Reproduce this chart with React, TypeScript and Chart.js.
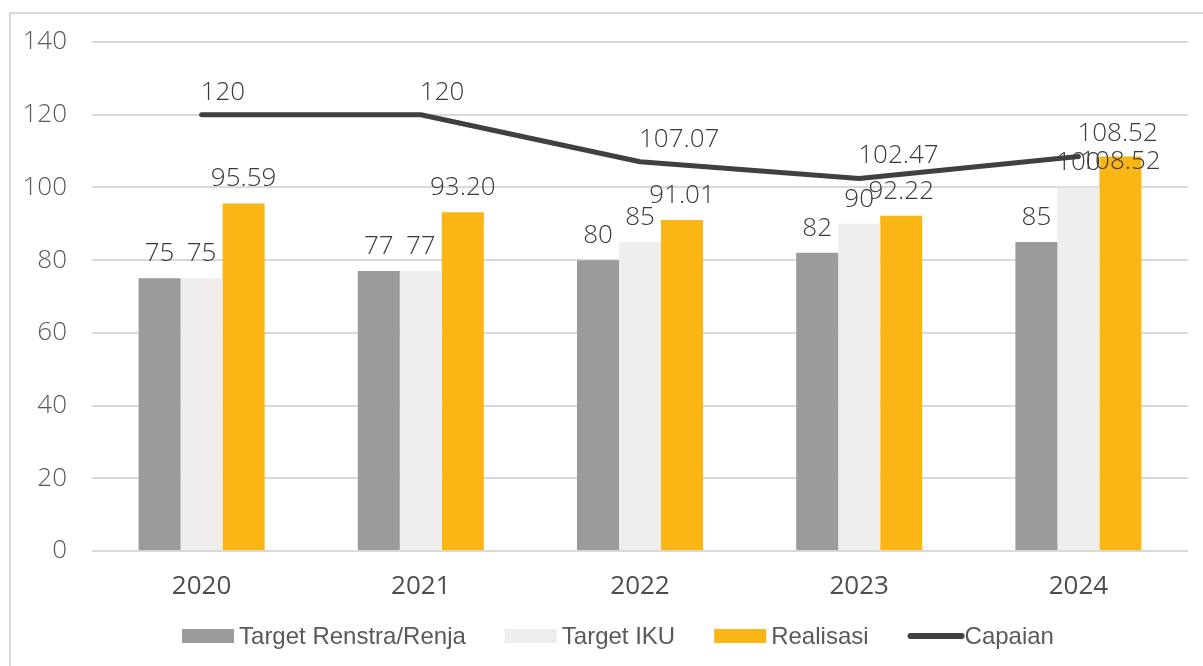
import React, { useEffect, useRef } from "react";
import { Chart, registerables } from "chart.js";

Chart.register(...registerables);

// ---- data ----
const categories = ["2020", "2021", "2022", "2023", "2024"];
const targetRenstra = [75, 77, 80, 82, 85];
const targetIku = [75, 77, 85, 90, 100];
const realisasi = [95.59, 93.2, 91.01, 92.22, 108.52];
const capaian = [120, 120, 107.07, 102.47, 108.52];
const yMin = 0;
const yMax = 140;
const yStep = 20;

const seriesLabels = ["Target Renstra/Renja", "Target IKU", "Realisasi", "Capaian"];
const seriesColors = ["#9b9b9b", "#efeeec", "#fbb515", "#404040"];

const W = 1203;
const H = 666;
const VALUE_FONT = '300 26px "Open Sans"';
const fmt = (v: number) => (Number.isInteger(v) ? String(v) : v.toFixed(2));

const framePlugin = {
  id: "frame",
  beforeDraw(chart: any) {
    const ctx = chart.ctx;
    ctx.save();
    ctx.fillStyle = "#ffffff";
    ctx.fillRect(0, 0, chart.width, chart.height);
    ctx.strokeStyle = "#d9d9d9";
    ctx.lineWidth = 2;
    ctx.strokeRect(10, 13, chart.width + 20, chart.height + 20);
    ctx.restore();
  },
};

const valueLabelPlugin = {
  id: "valueLabels",
  afterDatasetsDraw(chart: any) {
    const ctx = chart.ctx;
    ctx.save();
    ctx.font = VALUE_FONT;
    ctx.fillStyle = "#3a3a3a";
    ctx.textBaseline = "alphabetic";
    const capH = 18;
    const lineBoxes: { l: number; r: number; t: number; b: number }[] = [];
    const items: { text: string; x: number; y: number; align: CanvasTextAlign }[] = [];
    chart.data.datasets.forEach((ds: any, di: number) => {
      const meta = chart.getDatasetMeta(di);
      if (meta.type !== "line") return;
      meta.data.forEach((pt: any, i: number) => {
        const text = fmt(ds.data[i]);
        const w = ctx.measureText(text).width;
        const x = pt.x - 1;
        const y = pt.y - 15;
        lineBoxes.push({ l: x, r: x + w, t: y - capH, b: y });
        items.push({ text, x, y, align: "left" });
      });
    });
    chart.data.datasets.forEach((ds: any, di: number) => {
      const meta = chart.getDatasetMeta(di);
      if (meta.type !== "bar") return;
      meta.data.forEach((bar: any, i: number) => {
        const text = fmt(ds.data[i]);
        const w = ctx.measureText(text).width;
        let y = bar.y - 17;
        const l = bar.x - w / 2;
        const r = bar.x + w / 2;
        for (const b of lineBoxes) {
          if (l < b.r && r > b.l && y > b.t && y - capH < b.b) {
            y = b.b + 10 + capH;
          }
        }
        items.push({ text, x: bar.x, y, align: "center" });
      });
    });
    for (const it of items) {
      ctx.textAlign = it.align;
      ctx.fillText(it.text, it.x, it.y);
    }
    ctx.restore();
  },
};

const legendPlugin = {
  id: "customLegend",
  afterDraw(chart: any) {
    const ctx = chart.ctx;
    ctx.save();
    ctx.font = '24px "Liberation Sans", Arial, sans-serif';
    ctx.textBaseline = "middle";
    const boxW = 52;
    const boxH = 14;
    const gap = 5;
    const spacing = 39;
    const cy = 636;
    const all = chart.data.datasets as any[];
    const ds = [...all.filter((d) => d.type !== "line"), ...all.filter((d) => d.type === "line")];
    const widths = ds.map((d: any) => boxW + gap + ctx.measureText(d.label).width);
    const total = widths.reduce((a: number, b: number) => a + b, 0) + spacing * (ds.length - 1);
    let x = 618 - total / 2;
    ds.forEach((d: any, i: number) => {
      if (d.type === "line") {
        ctx.strokeStyle = d.borderColor;
        ctx.lineWidth = 6;
        ctx.lineCap = "round";
        ctx.beginPath();
        ctx.moveTo(x + 3, cy);
        ctx.lineTo(x + boxW + 2, cy);
        ctx.stroke();
      } else {
        ctx.fillStyle = d.backgroundColor;
        ctx.fillRect(x, cy - boxH / 2, boxW, boxH);
      }
      ctx.fillStyle = "#595959";
      ctx.textAlign = "left";
      ctx.fillText(d.label, x + boxW + gap, cy + 1);
      x += widths[i] + spacing;
    });
    ctx.restore();
  },
};

export default function App() {
  const ref = useRef<HTMLCanvasElement | null>(null);

  useEffect(() => {
    document.body.style.margin = "0";
    const canvas = ref.current;
    if (!canvas) return;
    const chart = new Chart(canvas, {
      type: "bar",
      data: {
        labels: categories,
        datasets: [
          {
            type: "line",
            label: seriesLabels[3],
            data: capaian,
            borderColor: seriesColors[3],
            backgroundColor: seriesColors[3],
            borderWidth: 5,
            pointRadius: 0,
            tension: 0,
            borderCapStyle: "round",
            borderJoinStyle: "round",
            order: 0,
          } as any,
          {
            type: "bar",
            label: seriesLabels[0],
            data: targetRenstra,
            backgroundColor: seriesColors[0],
            order: 1,
          },
          {
            type: "bar",
            label: seriesLabels[1],
            data: targetIku,
            backgroundColor: seriesColors[1],
            order: 1,
          },
          {
            type: "bar",
            label: seriesLabels[2],
            data: realisasi,
            backgroundColor: seriesColors[2],
            order: 1,
          },
        ],
      },
      options: {
        responsive: false,
        animation: false,
        devicePixelRatio: 1,
        layout: { padding: { top: 42, right: 15, bottom: 60, left: 0 } },
        datasets: {
          bar: { barPercentage: 1, categoryPercentage: 0.575 },
        },
        plugins: {
          legend: { display: false },
          tooltip: { enabled: false },
        },
        scales: {
          x: {
            grid: { display: false },
            border: { display: false },
            ticks: {
              color: "#4d4d4d",
              font: { family: '"Open Sans"', size: 26, weight: 400 as any },
              padding: 12,
            },
            afterFit: (scale: any) => {
              scale.height = 55;
            },
          },
          y: {
            min: yMin,
            max: yMax,
            border: { display: false },
            grid: { color: "#d9d9d9", lineWidth: 2, drawTicks: false },
            ticks: {
              stepSize: yStep,
              color: "#595959",
              font: { family: '"Open Sans"', size: 26, weight: 300 as any },
              padding: 25,
            },
            afterFit: (scale: any) => {
              scale.width = 92;
            },
          },
        },
      },
      plugins: [framePlugin, valueLabelPlugin, legendPlugin],
    });
    return () => chart.destroy();
  }, []);

  return <canvas ref={ref} width={W} height={H} style={{ display: "block" }} />;
}
